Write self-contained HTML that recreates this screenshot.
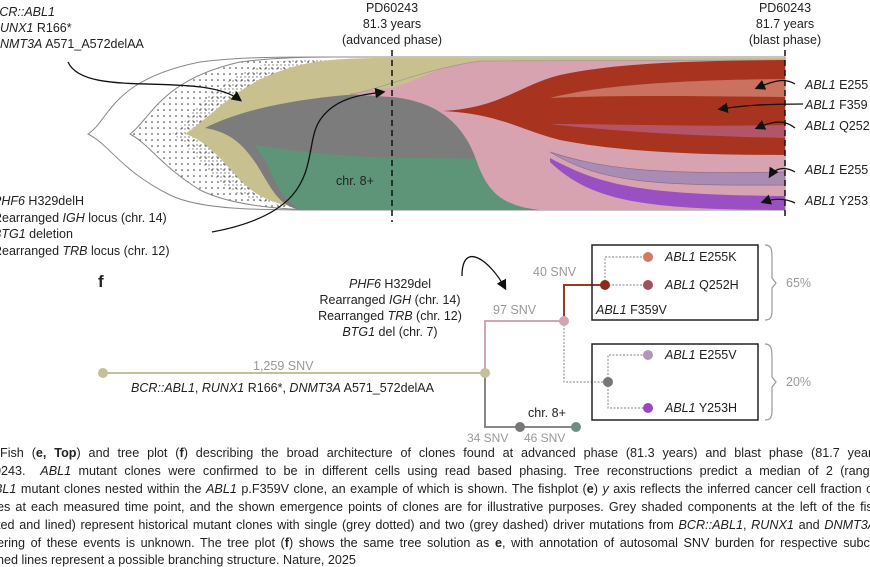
<!DOCTYPE html>
<html><head><meta charset="utf-8"><style>
body{margin:0;width:870px;height:565px;overflow:hidden;background:#fff;position:relative;font-family:"Liberation Sans",sans-serif}
.t{position:absolute;white-space:nowrap;font-size:12.5px;color:#222;line-height:1}
.c{position:absolute;left:0;font-size:13px;color:#222;line-height:1;white-space:nowrap;text-align:justify;text-align-last:justify;transform:scaleX(0.97);transform-origin:0 0;width:910px}
i{font-style:italic}
</style></head><body>
<svg width="870" height="565" style="position:absolute;left:0;top:0">
<defs>
<pattern id="dots" width="6" height="6" patternUnits="userSpaceOnUse"><circle cx="2" cy="2" r="0.8" fill="#333"/></pattern>
<pattern id="dots2" width="4" height="4" patternUnits="userSpaceOnUse"><circle cx="1" cy="1" r="0.7" fill="#333"/></pattern>
<marker id="ah" markerWidth="8" markerHeight="8" refX="6" refY="4" orient="auto"><path d="M0,0 L8,4 L0,8 z" fill="#111"/></marker>
</defs>
<path d="M88,134 C110,120 110,80 200,62 C240,57 280,57 320,57 L785,57 L785,210 L320,210 C260,210 200,210 170,195 C120,170 110,145 88,134 Z" fill="#fff" stroke="#888" stroke-width="1"/>
<path d="M130,134 C150,120 160,80 240,62 C270,58 300,57 330,57 L785,57 L785,210 L330,210 C280,210 230,205 200,190 C160,165 150,145 130,134 Z" fill="url(#dots)" stroke="#888" stroke-width="1"/>
<path d="M172,134 C190,120 210,80 270,62 L330,58 L785,58 L785,210 L340,210 C300,210 260,205 230,190 C200,165 190,145 172,134 Z" fill="url(#dots2)" opacity="0.7"/>
<path d="M185,134 C220,110 240,80 300,65 C330,58 360,58 400,58 L785,58 L785,210 L330,210 C280,208 260,200 240,180 C220,158 205,140 185,134 Z" fill="#c8c08e"/>
<path d="M205,128 C250,105 320,95 392,92 L785,92 L785,210 L300,210 C280,205 275,195 260,170 C245,145 230,132 205,128 Z" fill="#7c7c7c"/>
<path d="M255,145 C290,150 340,158 420,158 L560,160 L560,210 L300,210 C285,200 275,185 268,165 Z" fill="#5e9578"/>
<path d="M350,94 C365,91 380,89 392,88 C420,80 440,64 480,61 L785,60 L785,210 L540,210 C500,206 488,190 478,165 C465,125 440,102 392,97 C375,96 360,95 350,94 Z" fill="#d7a3b0"/>
<path d="M350,94 C380,90 420,70 480,61 L785,60" fill="none" stroke="#999" stroke-width="0.7"/>
<path d="M443,111 C500,108 520,85 560,75 C620,62 700,61 785,60 L785,155 C700,155 620,152 560,140 C520,130 500,114 443,111 Z" fill="#a8341f"/>
<path d="M550,98 C600,85 680,80 785,79 L785,97 C690,96 620,95 550,98 Z" fill="#c8725f"/>
<path d="M550,124 C620,124 690,127 785,125 L785,138 C700,136 620,132 550,124 Z" fill="#b35566"/>
<path d="M550,152 C600,168 650,175 785,172 L785,185 C650,186 600,182 550,152 Z" fill="#aa8cb2" stroke="#8a6f90" stroke-width="0.7"/>
<path d="M550,158 C600,185 640,195 785,196 L785,210 C640,210 590,200 550,162 Z" fill="#9a50c2"/>
<line x1="392" y1="50" x2="392" y2="222" stroke="#111" stroke-width="1.5" stroke-dasharray="6,4"/>
<line x1="785" y1="50" x2="785" y2="218" stroke="#111" stroke-width="1.5" stroke-dasharray="6,4"/>
<path d="M68,62 C85,100 200,70 240,100" fill="none" stroke="#111" stroke-width="1.3" marker-end="url(#ah)"/>
<path d="M212,232 C330,210 300,150 320,120 C335,98 360,95 383,92" fill="none" stroke="#111" stroke-width="1.3" marker-end="url(#ah)"/>
<path d="M795,84 C785,78 775,80 757,88" fill="none" stroke="#111" stroke-width="1.3" marker-end="url(#ah)"/>
<path d="M803,104 C760,104 740,106 720,109" fill="none" stroke="#111" stroke-width="1.3" marker-end="url(#ah)"/>
<path d="M795,128 C785,120 775,120 757,128" fill="none" stroke="#111" stroke-width="1.3" marker-end="url(#ah)"/>
<path d="M795,172 C785,166 775,168 770,176" fill="none" stroke="#111" stroke-width="1.3" marker-end="url(#ah)"/>
<path d="M795,203 C785,198 775,198 763,202" fill="none" stroke="#111" stroke-width="1.3" marker-end="url(#ah)"/>
<path d="M462,276 C462,240 490,260 505,288" fill="none" stroke="#111" stroke-width="1.3" marker-end="url(#ah)"/>
<line x1="103" y1="373" x2="485" y2="373" stroke="#c4c098" stroke-width="2"/>
<path d="M485,373 L485,321 L564,321" fill="none" stroke="#d1a6b2" stroke-width="2"/>
<path d="M485,373 L485,427 L576,427" fill="none" stroke="#888" stroke-width="2"/>
<path d="M564,321 L564,285 L605,285" fill="none" stroke="#9a3a25" stroke-width="2"/>
<g fill="none" stroke="#999" stroke-width="1.2" stroke-dasharray="2,1.5">
<path d="M564,321 L564,382 L608,382"/>
<path d="M605,285 L605,257 L648,257"/>
<path d="M605,285 L648,285"/>
<path d="M608,382 L608,355 L648,355"/>
<path d="M608,382 L608,408 L648,408"/>
</g>
<rect x="592" y="245" width="166" height="75" fill="none" stroke="#222" stroke-width="1.5"/>
<rect x="592" y="344" width="166" height="76" fill="none" stroke="#222" stroke-width="1.5"/>
<path d="M765,245 C772,245 772,250 772,260 L772,278 L776,283 L772,288 L772,310 C772,318 770,320 765,320" fill="none" stroke="#999" stroke-width="1.2"/>
<path d="M765,344 C772,344 772,350 772,360 L772,377 L776,382 L772,387 L772,410 C772,418 770,420 765,420" fill="none" stroke="#999" stroke-width="1.2"/>
<circle cx="103" cy="373" r="5" fill="#c4c098"/>
<circle cx="485" cy="373" r="5" fill="#c4c098"/>
<circle cx="564" cy="321" r="5" fill="#d1a6b2"/>
<circle cx="605" cy="285" r="5" fill="#8e2a1a"/>
<circle cx="648" cy="257" r="5" fill="#d17a66"/>
<circle cx="648" cy="285" r="5" fill="#a5505e"/>
<circle cx="608" cy="382" r="5" fill="#777"/>
<circle cx="648" cy="355" r="5" fill="#b096b8"/>
<circle cx="648" cy="408" r="5" fill="#9a45c4"/>
<circle cx="520" cy="427" r="5" fill="#777"/>
<circle cx="576" cy="427" r="5" fill="#6e8f80"/>
</svg>
<div class="t" style="left:-9px;top:6px"><i>BCR::ABL1</i></div>
<div class="t" style="left:-9px;top:22px"><i>RUNX1</i> R166*</div>
<div class="t" style="left:-9px;top:38px"><i>DNMT3A</i> A571_A572delAA</div>
<div class="t" style="left:-7px;top:195px"><i>PHF6</i> H329delH</div>
<div class="t" style="left:-7px;top:212px">Rearranged <i>IGH</i> locus (chr. 14)</div>
<div class="t" style="left:-7px;top:228px"><i>BTG1</i> deletion</div>
<div class="t" style="left:-7px;top:245px">Rearranged <i>TRB</i> locus (chr. 12)</div>
<div class="t" style="left:342px;top:0px;width:100px;text-align:center;line-height:16px">PD60243<br>81.3 years<br>(advanced phase)</div>
<div class="t" style="left:735px;top:0px;width:100px;text-align:center;line-height:16px">PD60243<br>81.7 years<br>(blast phase)</div>
<div class="t" style="left:336px;top:175px">chr. 8+</div>
<div class="t" style="left:805px;top:79px"><i>ABL1</i> E255</div>
<div class="t" style="left:805px;top:99px"><i>ABL1</i> F359</div>
<div class="t" style="left:805px;top:120px"><i>ABL1</i> Q252</div>
<div class="t" style="left:805px;top:164px"><i>ABL1</i> E255</div>
<div class="t" style="left:805px;top:195px"><i>ABL1</i> Y253</div>
<div class="t" style="left:98px;top:273px;font-size:17px;font-weight:bold">f</div>
<div class="t" style="left:300px;top:276px;width:180px;text-align:center;line-height:16px"><i>PHF6</i> H329del<br>Rearranged <i>IGH</i> (chr. 14)<br>Rearranged <i>TRB</i> (chr. 12)<br><i>BTG1</i> del (chr. 7)</div>
<div class="t" style="left:253px;top:360px;color:#999">1,259 SNV</div>
<div class="t" style="left:131px;top:382px"><i>BCR::ABL1</i>, <i>RUNX1</i> R166*, <i>DNMT3A</i> A571_572delAA</div>
<div class="t" style="left:493px;top:304px;color:#999">97 SNV</div>
<div class="t" style="left:533px;top:266px;color:#999">40 SNV</div>
<div class="t" style="left:665px;top:251px"><i>ABL1</i> E255K</div>
<div class="t" style="left:665px;top:279px"><i>ABL1</i> Q252H</div>
<div class="t" style="left:596px;top:304px"><i>ABL1</i> F359V</div>
<div class="t" style="left:665px;top:349px"><i>ABL1</i> E255V</div>
<div class="t" style="left:665px;top:402px"><i>ABL1</i> Y253H</div>
<div class="t" style="left:786px;top:277px;color:#999">65%</div>
<div class="t" style="left:786px;top:376px;color:#999">20%</div>
<div class="t" style="left:528px;top:407px">chr. 8+</div>
<div class="t" style="left:467px;top:432px;color:#999;font-size:12px">34 SNV</div>
<div class="t" style="left:524px;top:432px;color:#999;font-size:12px">46 SNV</div>
<div class="c" style="top:446px">Fish (<b>e, Top</b>) and tree plot (<b>f</b>) describing the broad architecture of clones found at advanced phase (81.3 years) and blast phase (81.7 years)</div>
<div class="c" style="top:464px;left:-6px">0243. &nbsp;<i>ABL1</i> mutant clones were confirmed to be in different cells using read based phasing. Tree reconstructions predict a median of 2 (range</div>
<div class="c" style="top:482px;left:-6px"><i>BL1</i> mutant clones nested within the <i>ABL1</i> p.F359V clone, an example of which is shown. The fishplot (<b>e</b>) <i>y</i> axis reflects the inferred cancer cell fraction of</div>
<div class="c" style="top:500px;left:-3px">es at each measured time point, and the shown emergence points of clones are for illustrative purposes. Grey shaded components at the left of the fish</div>
<div class="c" style="top:518px;left:-3px">ted and lined) represent historical mutant clones with single (grey dotted) and two (grey dashed) driver mutations from <i>BCR::ABL1</i>, <i>RUNX1</i> and <i>DNMT3A</i>:</div>
<div class="c" style="top:536px;left:-3px">ering of these events is unknown. The tree plot (<b>f</b>) shows the same tree solution as <b>e</b>, with annotation of autosomal SNV burden for respective subclo</div>
<div class="c" style="top:553px;left:-3px;text-align-last:left">hed lines represent a possible branching structure. Nature, 2025</div>
</body></html>
